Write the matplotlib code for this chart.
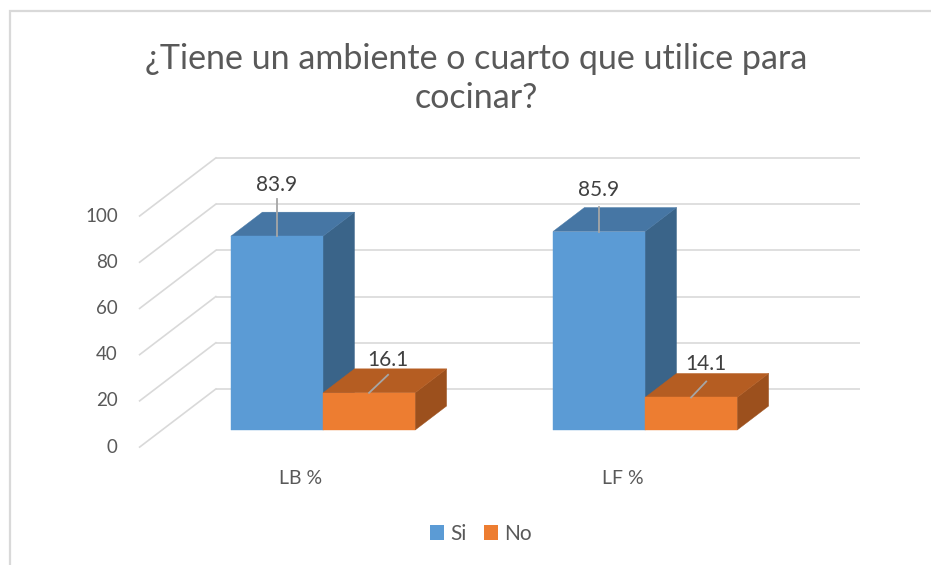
import matplotlib
matplotlib.use("Agg")
import matplotlib.pyplot as plt
from matplotlib.patches import Polygon, Patch, Rectangle

# data
categories = ["LB %", "LF %"]
series = ["Si", "No"]
si_values = [83.9, 85.9]
no_values = [16.1, 14.1]
y_ticks = [0, 20, 40, 60, 80, 100]
title = "¿Tiene un ambiente o cuarto que utilice para\ncocinar?"

# colours (front, top, side)
front_colors = ["#5B9BD5", "#ED7D31"]
top_colors = ["#4676A4", "#B55D22"]
side_colors = ["#3A6489", "#9C501D"]
grid_color = "#D9D9D9"
text_color = "#595959"

plt.rcParams["font.family"] = ["Lato", "DejaVu Sans"]

W, H, DPI = 931, 565, 100
fig = plt.figure(figsize=(W / DPI, H / DPI), dpi=DPI)
ax = fig.add_axes([0, 0, 1, 1])
ax.set_xlim(-1.003, 1.888)
ax.set_ylim(-58.4, 186.1)
ax.axis("off")

# pseudo-3d geometry (data units)
bar_w = 0.286          # width of one bar in category units
dz_x, dz_y = 0.0978, 10.39   # shift for one bar depth
z_back, z_front = 1.71, -0.71
x_left, x_right = -0.5, 1.5

# chart border
fig.patches.append(Rectangle((10 / W, -0.1), 1.2, 1.1 - 11 / H, transform=fig.transFigure,
                             fill=False, edgecolor=grid_color, linewidth=1.6))

# back wall and side wall gridlines
for t in y_ticks:
    yb = t + z_back * dz_y
    ax.plot([x_left + z_back * dz_x, x_right + z_back * dz_x], [yb, yb],
            color=grid_color, lw=1.2, zorder=1, solid_capstyle="butt")
    ax.plot([x_left + z_front * dz_x, x_left + z_back * dz_x],
            [t + z_front * dz_y, yb], color=grid_color, lw=1.2, zorder=1)
    ax.text(-0.637, t + z_front * dz_y, str(t), ha="right", va="center",
            fontsize=13.5, color=text_color)


def draw_bar(x0, v, k):
    x1 = x0 + bar_w
    front = [(x0, 0), (x1, 0), (x1, v), (x0, v)]
    top = [(x0, v), (x1, v), (x1 + dz_x, v + dz_y), (x0 + dz_x, v + dz_y)]
    side = [(x1, 0), (x1 + dz_x, dz_y), (x1 + dz_x, v + dz_y), (x1, v)]
    for pts, c in ((side, side_colors[k]), (top, top_colors[k]), (front, front_colors[k])):
        ax.add_patch(Polygon(pts, closed=True, facecolor=c, edgecolor=c, lw=0.3, zorder=2))


# label offsets (data units): leader end and text position relative to bar top-front centre
leader_ends = [[(0.0, 16.0), (0.059, 7.8)], [(0.0, 10.8), (0.047, 6.9)]]
text_offsets = [[(0.0, 22.0), (0.059, 14.3)], [(0.0, 18.0), (0.047, 14.3)]]

for i, cat in enumerate(categories):
    for k, vals in enumerate([si_values, no_values]):
        v = vals[i]
        x0 = i - bar_w + k * bar_w
        draw_bar(x0, v, k)
        cx = x0 + bar_w / 2
        lx, ly = leader_ends[i][k]
        tx, ty = text_offsets[i][k]
        ax.plot([cx, cx + lx], [v, v + ly], color="#A6A6A6", lw=1.3, zorder=3)
        ax.text(cx + tx, v + ty, f"{v:.1f}", ha="center", va="center",
                fontsize=15, color="#404040", zorder=4)
    ax.text(i + z_front * dz_x, -20.8, cat, ha="center", va="center",
            fontsize=14, color=text_color)

ax.text(0.512, 0.861, title, transform=fig.transFigure, ha="center", va="center",
        fontsize=24.5, color=text_color, linespacing=1.25)

handles = [Patch(facecolor=front_colors[k], edgecolor="none") for k in range(2)]
fig.legend(handles, series, loc="center", bbox_to_anchor=(481 / W, 1 - 534 / H), ncol=2,
           frameon=False, fontsize=15, handlelength=0.7, handleheight=0.7,
           handletextpad=0.3, columnspacing=0.8, labelcolor=text_color)

fig.savefig("out.png", dpi=DPI)
